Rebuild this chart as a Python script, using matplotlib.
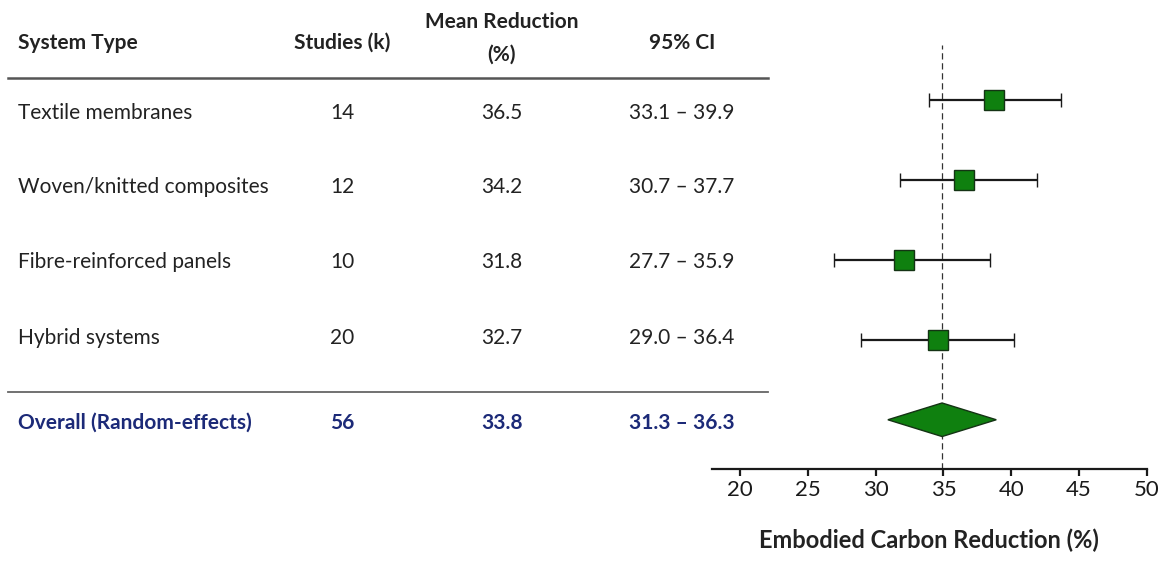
import matplotlib.pyplot as plt
from matplotlib.lines import Line2D

plt.rcParams['font.family'] = ['Lato', 'DejaVu Sans']

# table contents
systems = ['Textile membranes', 'Woven/knitted composites', 'Fibre-reinforced panels', 'Hybrid systems']
studies = [14, 12, 10, 20]
mean_red = [36.5, 34.2, 31.8, 32.7]
ci_text = ['33.1 – 39.9', '30.7 – 37.7', '27.7 – 35.9', '29.0 – 36.4']
overall_label = 'Overall (Random-effects)'
overall_k = 56
overall_mean = 33.8
overall_ci = '31.3 – 36.3'

# positions of the marks as drawn in the forest panel
plot_means = [38.7, 36.5, 32.1, 34.6]
plot_lo = [33.9, 31.8, 26.9, 28.9]
plot_hi = [43.7, 41.9, 38.4, 40.2]
pooled_mid = 34.9
pooled_lo = 30.9
pooled_hi = 38.9
xticks = [20, 25, 30, 35, 40, 45, 50]

W, H = 1163, 561
fig = plt.figure(figsize=(W / 100, H / 100), dpi=100)
fig.patch.set_facecolor('white')


def fx(px):
    return px / W


def fy(py):
    return 1 - py / H


txt_col = '#222222'
navy = '#1c2a78'
fs = 15
hdr = dict(fontsize=fs, fontweight='bold', color=txt_col, va='center')

# header
fig.text(fx(18), fy(43), 'System Type', ha='left', **hdr)
fig.text(fx(342), fy(43), 'Studies (k)', ha='center', **hdr)
fig.text(fx(502), fy(22), 'Mean Reduction', ha='center', **hdr)
fig.text(fx(502), fy(55), '(%)', ha='center', **hdr)
fig.text(fx(682), fy(43), '95% CI', ha='center', **hdr)

fig.add_artist(Line2D([fx(8), fx(768)], [fy(78), fy(78)], color='#555555', lw=1.8))
fig.add_artist(Line2D([fx(8), fx(768)], [fy(392), fy(392)], color='#666666', lw=1.3))

row_y = [113, 187, 262, 338]
for i, name in enumerate(systems):
    y = fy(row_y[i])
    fig.text(fx(18), y, name, ha='left', va='center', fontsize=fs, color=txt_col)
    fig.text(fx(342), y, str(studies[i]), ha='center', va='center', fontsize=fs, color=txt_col)
    fig.text(fx(502), y, f'{mean_red[i]:.1f}', ha='center', va='center', fontsize=fs, color=txt_col)
    fig.text(fx(682), y, ci_text[i], ha='center', va='center', fontsize=fs, color=txt_col)

ov = dict(fontsize=fs, fontweight='bold', color=navy, va='center')
fig.text(fx(18), fy(423), overall_label, ha='left', **ov)
fig.text(fx(342), fy(423), str(overall_k), ha='center', **ov)
fig.text(fx(502), fy(423), f'{overall_mean:.1f}', ha='center', **ov)
fig.text(fx(682), fy(423), overall_ci, ha='center', **ov)

# forest panel
x0, x1 = 711.7, 1146.7
top, bot = 45, 469.3
ax = fig.add_axes([fx(x0), fy(bot), (x1 - x0) / W, (bot - top) / H])
ax.set_xlim(17.9, 50)
ax.set_ylim(4.62, -0.69)

ax.axvline(pooled_mid, color='#333333', lw=0.9, ls=(0, (5, 3)), zorder=1)

for i in range(len(plot_means)):
    ax.errorbar(plot_means[i], i, xerr=[[plot_means[i] - plot_lo[i]], [plot_hi[i] - plot_means[i]]],
                fmt='s', color='#1a1a1a', ecolor='#1a1a1a', elinewidth=1.6, capsize=5, capthick=1.6,
                markersize=14.5, markerfacecolor='#0f800f', markeredgecolor='#143314',
                markeredgewidth=1.0, zorder=3)

yd = 4
hh = 0.21
ax.fill([pooled_lo, pooled_mid, pooled_hi, pooled_mid], [yd, yd - hh, yd, yd + hh],
        facecolor='#0f800f', edgecolor='#143314', lw=1.0, zorder=3)

for s in ['top', 'left', 'right']:
    ax.spines[s].set_visible(False)
ax.spines['bottom'].set_linewidth(1.6)
ax.spines['bottom'].set_color('#1a1a1a')
ax.set_yticks([])
ax.set_xticks(xticks)
ax.tick_params(axis='x', length=5, width=1.6, direction='out', labelsize=16, colors='#1a1a1a', pad=3)
ax.set_xlabel('Embodied Carbon Reduction (%)', fontsize=17, fontweight='bold', color=txt_col, labelpad=20)
ax.patch.set_alpha(0)

fig.savefig('out.png', dpi=100, facecolor='white')
